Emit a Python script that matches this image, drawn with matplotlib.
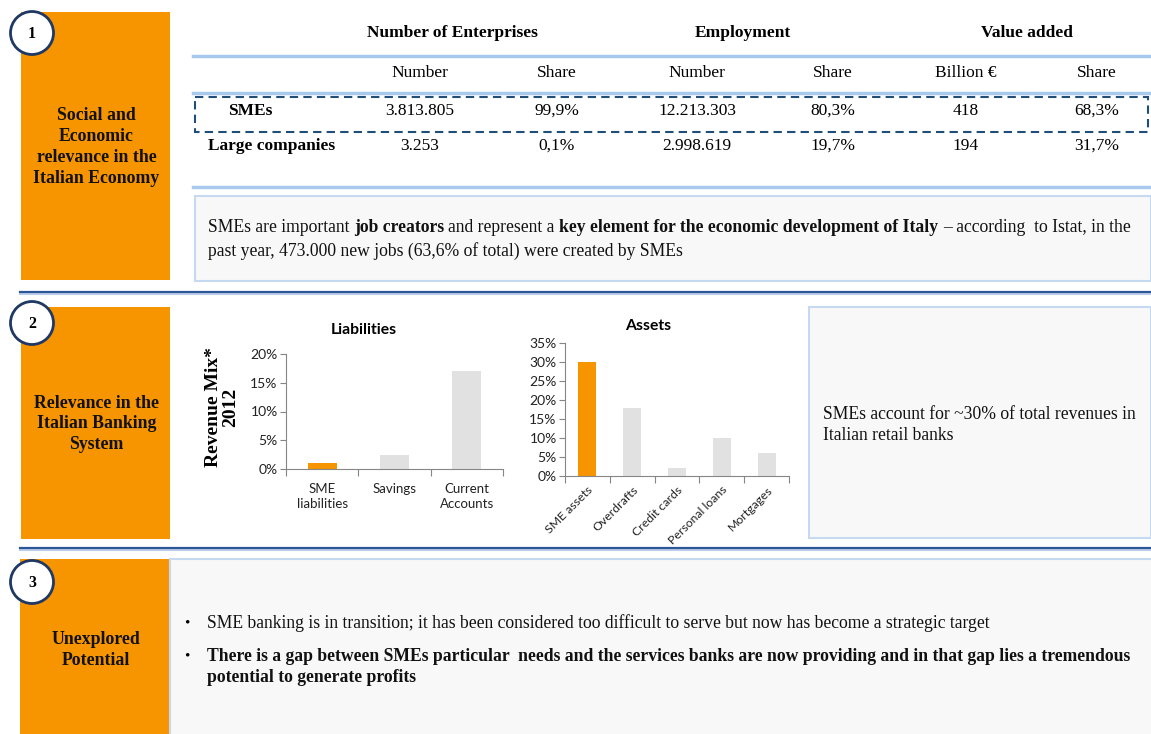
import matplotlib
matplotlib.use('Agg')
import matplotlib.pyplot as plt
from matplotlib.patches import Rectangle, Circle
from matplotlib.ticker import FuncFormatter

W, H = 1151, 734
SERIF = 'Liberation Serif'
SANS = 'Lato'
ORANGE = '#F79500'
GREY_BAR = '#E1E1E1'
NAVY = '#1F3864'
SEP = '#2E5597'
LIGHT_BLUE = '#A9C8EE'
BOX_EDGE = '#C6D9F1'
BOX_FILL = '#F8F8F8'

# table data
row_names = ['SMEs', 'Large companies']
n_enterprises = ['3.813.805', '3.253']
share_enterprises = ['99,9%', '0,1%']
n_employment = ['12.213.303', '2.998.619']
share_employment = ['80,3%', '19,7%']
value_added = ['418', '194']
share_value = ['68,3%', '31,7%']
group_headers = ['Number of Enterprises', 'Employment', 'Value added']
sub_headers = ['Number', 'Share', 'Number', 'Share', 'Billion €', 'Share']

# revenue mix 2012 (%)
liab_cats = ['SME\nliabilities', 'Savings', 'Current\nAccounts']
liab_vals = [1.0, 2.5, 17.0]
asset_cats = ['SME assets', 'Overdrafts', 'Credit cards', 'Personal loans', 'Mortgages']
asset_vals = [30, 18, 2, 10, 6]

section_titles = ['Social and\nEconomic\nrelevance in the\nItalian Economy',
                  'Relevance in the\nItalian Banking\nSystem',
                  'Unexplored\nPotential']

BODY = 12.7
TABLE = 12.5

fig = plt.figure(figsize=(W / 100, H / 100), dpi=100)
ax = fig.add_axes([0, 0, 1, 1])
ax.set_xlim(0, W)
ax.set_ylim(H, 0)
ax.axis('off')
renderer = fig.canvas.get_renderer()


def rich_line(x, y, parts, size):
    sp = size * 100 / 72 * 0.25
    for txt, bold in parts:
        if txt.startswith(' '):
            x += sp
        t = ax.text(x, y, txt.strip(), fontsize=size, family=SERIF,
                    fontweight='bold' if bold else 'normal', va='center', ha='left', color='#111111')
        x += t.get_window_extent(renderer).width
        if txt.endswith(' '):
            x += sp


# orange side boxes + numbered circles
boxes = [(21, 12, 149, 268), (21, 307, 149, 232), (20, 559, 150, 175)]
title_y = [147, 424, 650]
circle_y = [33, 323, 582]
for i, (bx, by, bw, bh) in enumerate(boxes):
    ax.add_patch(Rectangle((bx, by), bw, bh, facecolor=ORANGE, edgecolor='none', zorder=1))
    ax.text(bx + bw / 2 + 1, title_y[i], section_titles[i], ha='center', va='center', fontsize=12.8,
            family=SERIF, fontweight='bold', linespacing=1.3, color='#111111', zorder=3)
    ax.add_patch(Circle((32, circle_y[i]), 21.5, facecolor='white', edgecolor=NAVY, lw=2, zorder=4))
    ax.text(32, circle_y[i] + 1, str(i + 1), ha='center', va='center', fontsize=11.5,
            family=SERIF, fontweight='bold', zorder=5)

# section separators
for y in [292, 548]:
    ax.plot([20, W], [y + 1.5, y + 1.5], color='#BDD0EA', lw=1.5, zorder=1)
    ax.plot([20, W], [y, y], color=SEP, lw=1.6, zorder=2)

# ---- section 1 table ----
for y in [56, 93, 187]:
    ax.plot([193, W], [y, y], color=LIGHT_BLUE, lw=2.5, zorder=2)

group_x = [452, 743, 1027]
for gx, g in zip(group_x, group_headers):
    ax.text(gx, 33, g, ha='center', va='center', fontsize=TABLE, family=SERIF, fontweight='bold')

col_x = [420, 557, 697, 833, 966, 1097]
for cx, s in zip(col_x, sub_headers):
    ax.text(cx, 73, s, ha='center', va='center', fontsize=TABLE, family=SERIF)

cols = [n_enterprises, share_enterprises, n_employment, share_employment, value_added, share_value]
row_y = [111, 146]
row_x = [250, 272]
for r in range(len(row_names)):
    ax.text(row_x[r], row_y[r], row_names[r], ha='center', va='center', fontsize=TABLE,
            family=SERIF, fontweight='bold')
    for cx, col in zip(col_x, cols):
        ax.text(cx, row_y[r], col[r], ha='center', va='center', fontsize=TABLE, family=SERIF)

ax.add_patch(Rectangle((195, 97), 953, 35, facecolor='none', edgecolor='#1F4E79',
                       lw=1.5, ls=(0, (4, 2.5)), zorder=3))

ax.add_patch(Rectangle((195, 196), 956, 85, facecolor=BOX_FILL, edgecolor=BOX_EDGE, lw=1.5, zorder=1))
rich_line(208, 228, [('SMEs are important ', False), ('job creators', True), (' and represent a ', False),
                     ('key element for the economic development of Italy', True),
                     (' – according  to Istat, in the', False)], BODY)
rich_line(208, 251, [('past year, 473.000 new jobs (63,6% of total) were created by SMEs', False)], BODY)

# ---- section 2 ----
ax.add_patch(Rectangle((809, 307), 342, 231, facecolor=BOX_FILL, edgecolor=BOX_EDGE, lw=1.5, zorder=1))
ax.text(823, 425, 'SMEs account for ~30% of total revenues in\nItalian retail banks', ha='left', va='center',
        fontsize=BODY, family=SERIF, linespacing=1.35, color='#111111')

ax.text(222, 407, 'Revenue Mix*\n2012', rotation=90, ha='center', va='center', fontsize=14,
        family=SERIF, fontweight='bold', linespacing=1.0)


def fig_rect(x0, x1, y_top, y_bottom):
    return [x0 / W, (H - y_bottom) / H, (x1 - x0) / W, (y_bottom - y_top) / H]


pct = FuncFormatter(lambda v, p: f'{v:.0f}%')


def bar_chart(rect, cats, vals, ymax, title, title_x, title_y, rotate):
    a = fig.add_axes(rect)
    a.set_facecolor('none')
    n = len(cats)
    colors = [ORANGE] + [GREY_BAR] * (n - 1)
    a.bar(range(n), vals, width=0.4, color=colors, zorder=2)
    a.set_xlim(-0.5, n - 0.5)
    a.set_ylim(0, ymax)
    a.set_yticks(range(0, ymax + 1, 5))
    a.yaxis.set_major_formatter(pct)
    a.set_xticks([i - 0.5 for i in range(n + 1)])
    a.set_xticklabels([])
    a.set_xticks(range(n), minor=True)
    if rotate:
        a.set_xticklabels(cats, minor=True, rotation=45, ha='right', rotation_mode='anchor')
    else:
        a.set_xticklabels(cats, minor=True, linespacing=1.3)
    a.tick_params(axis='x', which='minor', length=0, pad=6 if rotate else 10)
    a.tick_params(axis='x', which='major', length=5, color='#868686')
    a.tick_params(axis='y', length=4, color='#868686', pad=2)
    for lbl in a.get_xticklabels(minor=True):
        lbl.set_fontfamily(SANS)
        lbl.set_fontsize(9.5 if not rotate else 8.8)
        lbl.set_color('#222222')
    for lbl in a.get_yticklabels():
        lbl.set_fontfamily(SANS)
        lbl.set_fontsize(10)
        lbl.set_color('#222222')
    for s in ['top', 'right']:
        a.spines[s].set_visible(False)
    for s in ['left', 'bottom']:
        a.spines[s].set_color('#868686')
    ax.text(title_x, title_y, title, ha='center', va='center', fontsize=11.3,
            family=SANS, fontweight='bold')
    return a


bar_chart(fig_rect(286, 503, 354, 469), liab_cats, liab_vals, 20, 'Liabilities', 364, 330, False)
bar_chart(fig_rect(565, 789, 343, 476), asset_cats, asset_vals, 35, 'Assets', 648, 326, True)

# ---- section 3 ----
ax.add_patch(Rectangle((170, 559), 990, 180, facecolor=BOX_FILL, edgecolor=BOX_EDGE, lw=1.5, zorder=1))
ax.text(187, 623, '•', ha='center', va='center', fontsize=11, family=SERIF)
ax.text(207, 623, 'SME banking is in transition; it has been considered too difficult to serve but now has become a strategic target',
        ha='left', va='center', fontsize=BODY, family=SERIF, color='#111111')
ax.text(187, 656, '•', ha='center', va='center', fontsize=11, family=SERIF)
ax.text(207, 667, 'There is a gap between SMEs particular  needs and the services banks are now providing and in that gap lies a tremendous\npotential to generate profits',
        ha='left', va='center', fontsize=BODY, family=SERIF, fontweight='bold', linespacing=1.32, color='#111111')

fig.savefig('out.png', dpi=100)
